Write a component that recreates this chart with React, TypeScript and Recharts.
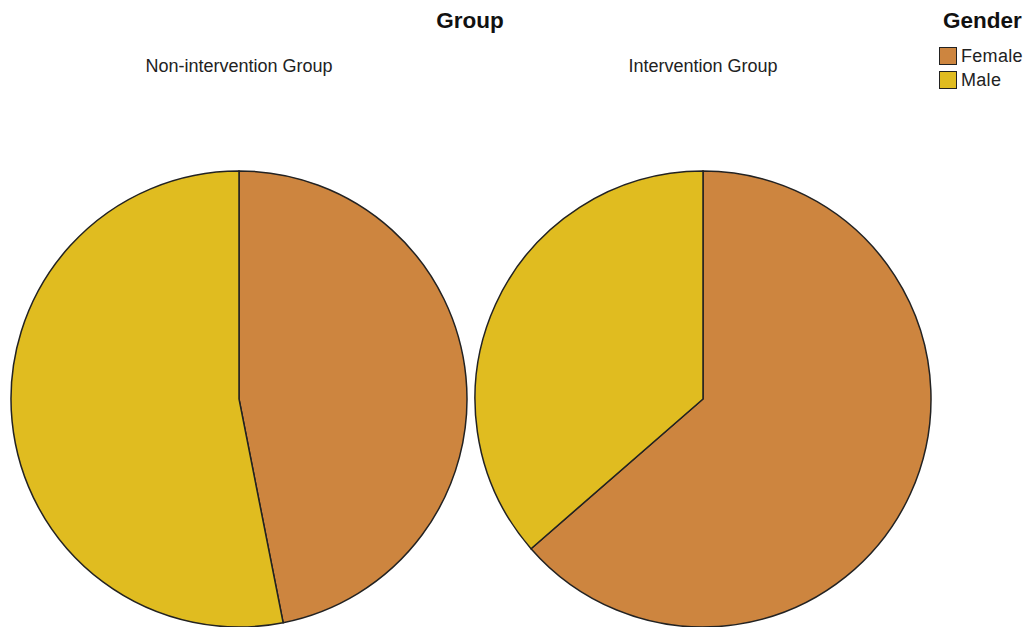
import { PieChart, Pie, Cell, Legend } from 'recharts'

// Gender split per group (percent)
const genders = ['Female', 'Male']
const nonInterventionValues = [46.9, 53.1]
const interventionValues = [63.6, 36.4]
const groupLabels = ['Non-intervention Group', 'Intervention Group']

const COLORS: Record<string, string> = {
  Female: '#cd853f',
  Male: '#e0bc20',
}

const FONT = '"Liberation Sans", Arial, sans-serif'

const toRows = (values: number[]) => genders.map((g, i) => ({ name: g, value: values[i] }))

const nonInterventionData = toRows(nonInterventionValues)
const interventionData = toRows(interventionValues)

function GenderLegend() {
  return (
    <div style={{ fontFamily: FONT }}>
      <div style={{ fontSize: 22.5, lineHeight: '26px', fontWeight: 'bold', color: '#111', marginBottom: 10, marginLeft: 4 }}>
        Gender
      </div>
      {genders.map(g => (
        <div key={g} style={{ display: 'flex', alignItems: 'center', height: 24 }}>
          <span
            style={{
              display: 'inline-block',
              width: 16,
              height: 16,
              background: COLORS[g],
              border: '1px solid #222',
              marginRight: 4,
            }}
          />
          <span style={{ fontSize: 18, letterSpacing: 0.3, color: '#222' }}>{g}</span>
        </div>
      ))}
    </div>
  )
}

export default function App() {
  return (
    <div style={{ position: 'absolute', left: 0, top: 0, width: 1030, height: 627, background: '#fff' }}>
      <div
        style={{
          position: 'absolute', left: 370, width: 200, top: 8, lineHeight: '26px', textAlign: 'center',
          fontFamily: FONT, fontSize: 22.5, fontWeight: 'bold', color: '#111',
        }}
      >
        Group
      </div>
      {groupLabels.map((label, i) => (
        <div
          key={label}
          style={{
            position: 'absolute', left: (i === 0 ? 239 : 703) - 150, width: 300, top: 55, lineHeight: '22px',
            textAlign: 'center', fontFamily: FONT, fontSize: 18, color: '#222',
          }}
        >
          {label}
        </div>
      ))}
      <PieChart
        width={1030}
        height={627}
        margin={{ top: 0, right: 0, bottom: 0, left: 0 }}
        style={{ position: 'absolute', left: 0, top: 0 }}
      >
        <Pie
          data={nonInterventionData}
          dataKey="value"
          nameKey="name"
          cx={239}
          cy={399}
          outerRadius={228}
          startAngle={90}
          endAngle={-270}
          stroke="#222"
          strokeWidth={1.5}
          isAnimationActive={false}
          legendType="square"
        >
          {nonInterventionData.map(d => (
            <Cell key={d.name} fill={COLORS[d.name]} />
          ))}
        </Pie>
        <Pie
          data={interventionData}
          dataKey="value"
          nameKey="name"
          cx={703}
          cy={399}
          outerRadius={228}
          startAngle={90}
          endAngle={-270}
          stroke="#222"
          strokeWidth={1.5}
          isAnimationActive={false}
          legendType="none"
        >
          {interventionData.map(d => (
            <Cell key={d.name} fill={COLORS[d.name]} />
          ))}
        </Pie>
        <Legend
          content={() => <GenderLegend />}
          wrapperStyle={{ position: 'absolute', left: 939, top: 8, width: 91 }}
        />
      </PieChart>
    </div>
  )
}
